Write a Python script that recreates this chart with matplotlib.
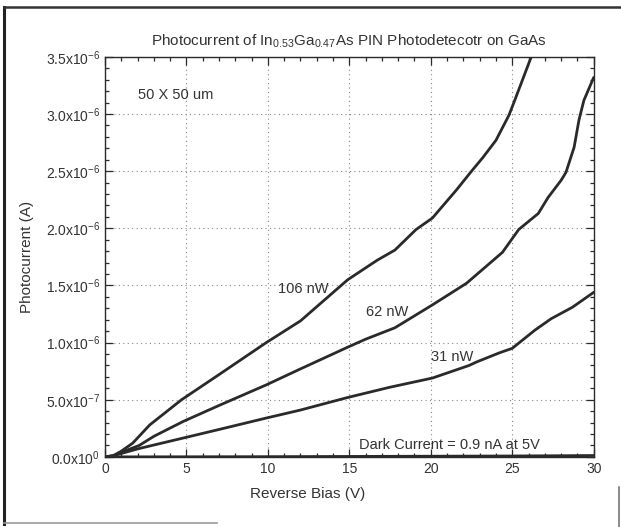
import matplotlib
matplotlib.use("Agg")
import matplotlib.pyplot as plt
from matplotlib.ticker import MultipleLocator, FixedLocator, FixedFormatter
from matplotlib.lines import Line2D

plt.rcParams['font.family'] = ['Liberation Sans', 'DejaVu Sans']
plt.rcParams['mathtext.default'] = 'regular'

# Data (current in units of 1e-6 A)
v_106 = [0, 0.5, 1.0, 1.7, 2.75, 4.7, 7.0, 9.9, 12.0, 14.9, 16.7, 17.8, 19.1, 20.1,
         21.6, 22.5, 23.2, 24.0, 24.8, 25.1, 26.3]
i_106 = [0, 0.01, 0.05, 0.12, 0.28, 0.50, 0.72, 1.0, 1.19, 1.55, 1.72, 1.81, 1.99, 2.09,
         2.34, 2.50, 2.62, 2.77, 2.99, 3.10, 3.55]

v_62 = [0, 0.5, 1.0, 2.1, 3.0, 4.8, 7.0, 9.9, 12.0, 14.9, 16.0, 17.8, 20.1, 22.2,
        24.4, 25.4, 26.0, 26.6, 27.2, 28.0, 28.3, 28.8, 29.1, 29.4, 30.0]
i_62 = [0, 0.01, 0.04, 0.10, 0.18, 0.31, 0.45, 0.63, 0.77, 0.96, 1.03, 1.13, 1.33, 1.52,
        1.79, 1.99, 2.06, 2.13, 2.27, 2.42, 2.49, 2.71, 2.95, 3.12, 3.32]

v_31 = [0, 0.5, 1.0, 2.0, 4.8, 7.0, 9.9, 12.0, 14.9, 17.5, 20.1, 22.35, 22.8, 24.2,
        25.0, 26.4, 27.4, 28.7, 29.9, 30.0]
i_31 = [0, 0.01, 0.03, 0.07, 0.165, 0.24, 0.34, 0.41, 0.52, 0.61, 0.69, 0.80, 0.83, 0.91,
        0.95, 1.11, 1.21, 1.31, 1.43, 1.44]

v_dark = [0, 5, 10, 15, 20, 25, 30]
i_dark = [0, 0.001, 0.002, 0.004, 0.006, 0.008, 0.012]

y_ticks = [0, 0.5, 1.0, 1.5, 2.0, 2.5, 3.0, 3.5]
y_labels = ['0.0x10$^{0}$', '5.0x10$^{-7}$', '1.0x10$^{-6}$', '1.5x10$^{-6}$',
            '2.0x10$^{-6}$', '2.5x10$^{-6}$', '3.0x10$^{-6}$', '3.5x10$^{-6}$']

ink = '#2a2a2a'
txt = '#333333'

fig = plt.figure(figsize=(6.21, 5.27), dpi=100)
ax = fig.add_axes([0.169, 0.133, 0.787, 0.759])

for v, i in [(v_106, i_106), (v_62, i_62), (v_31, i_31), (v_dark, i_dark)]:
    ax.plot(v, i, color=ink, lw=2.0, solid_capstyle='round', solid_joinstyle='round')

ax.set_xlim(0, 30)
ax.set_ylim(0, 3.5)
ax.xaxis.set_major_locator(MultipleLocator(5))
ax.xaxis.set_minor_locator(MultipleLocator(1))
ax.yaxis.set_major_locator(FixedLocator(y_ticks))
ax.yaxis.set_major_formatter(FixedFormatter(y_labels))
ax.yaxis.set_minor_locator(MultipleLocator(0.1))

ax.grid(True, which='major', color='#888888', linestyle=(0, (1, 3)), lw=0.8)
ax.tick_params(which='both', direction='in', top=True, right=True, colors=ink,
               labelcolor=txt, labelsize=10, width=0.9)
ax.tick_params(which='major', length=6)
ax.tick_params(which='minor', length=3)
for s in ax.spines.values():
    s.set_color(ink)
    s.set_linewidth(1.0)

ax.set_title('Photocurrent of In$_{0.53}$Ga$_{0.47}$As PIN Photodetecotr on GaAs',
             fontsize=11, color=txt, pad=8)
ax.set_xlabel('Reverse Bias (V)', fontsize=11, color=txt, labelpad=4)
ax.xaxis.set_label_coords(0.415, -0.075)
ax.set_ylabel('Photocurrent (A)', fontsize=11, color=txt, labelpad=2)
ax.yaxis.set_label_coords(-0.145, 0.5)

ax.text(2.0, 3.17, '50 X 50 um', fontsize=10.5, color=txt, va='center', ha='left')
ax.text(10.6, 1.47, '106 nW', fontsize=10.5, color=txt, va='center', ha='left')
ax.text(16.0, 1.27, '62 nW', fontsize=10.5, color=txt, va='center', ha='left')
ax.text(20.0, 0.875, '31 nW', fontsize=10.5, color=txt, va='center', ha='left')
ax.text(15.6, 0.10, 'Dark Current = 0.9 nA at 5V', fontsize=10.5, color=txt,
        va='center', ha='left')

# outer frame
fig.add_artist(Line2D([0.007, 0.007], [0.005, 0.987], transform=fig.transFigure,
                      color='#222222', lw=2.2))
fig.add_artist(Line2D([0.007, 1.0], [0.987, 0.987], transform=fig.transFigure,
                      color='#333333', lw=1.8))
fig.add_artist(Line2D([0.007, 0.35], [0.007, 0.007], transform=fig.transFigure,
                      color='#999999', lw=1.2))
fig.add_artist(Line2D([0.997, 0.997], [0.0, 0.075], transform=fig.transFigure,
                      color='#777777', lw=1.2))

fig.savefig('out.png', dpi=100)
